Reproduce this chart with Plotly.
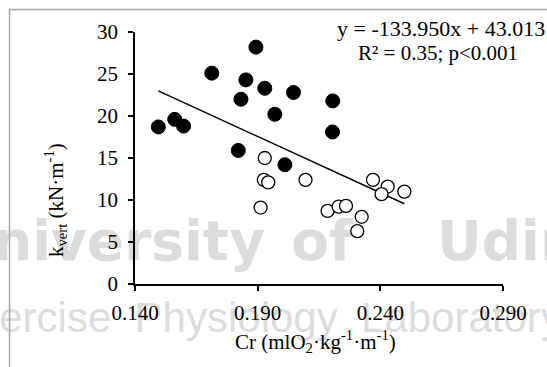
import plotly.graph_objects as go

# ---- data ----
cr_filled = [0.1495, 0.1562, 0.1598, 0.1713, 0.1852, 0.1832, 0.1893,
             0.1929, 0.1970, 0.2046, 0.2206, 0.2205, 0.1821, 0.2011]
kvert_filled = [18.7, 19.6, 18.8, 25.1, 24.3, 22.0, 28.2,
                23.3, 20.2, 22.8, 21.8, 18.1, 15.9, 14.2]

cr_open = [0.1929, 0.1925, 0.1943, 0.1912, 0.2095, 0.2185, 0.2230,
           0.2260, 0.2324, 0.2306, 0.2370, 0.2430, 0.2405, 0.2498]
kvert_open = [15.0, 12.4, 12.1, 9.1, 12.4, 8.7, 9.2,
              9.3, 8.0, 6.3, 12.4, 11.6, 10.7, 11.0]

slope = -133.950
intercept = 43.013

x_range = [0.14, 0.29]
y_range = [0, 30]
x_ticks = [0.140, 0.190, 0.240, 0.290]
x_tick_labels = ["0.140", "0.190", "0.240", "0.290"]
y_ticks = [0, 5, 10, 15, 20, 25, 30]
y_tick_labels = ["0", "5", "10", "15", "20", "25", "30"]

eq_line1 = "y = -133.950x + 43.013"
eq_line2 = "R² = 0.35; p<0.001"
x_title = "Cr (mlO<sub>2</sub>·kg<sup>-1</sup>·m<sup>-1</sup>)"
y_title = "k<sub>vert</sub> (kN·m<sup>-1</sup>)"

watermark_words = ["University", "of", "Udine"]
watermark_line2 = "Exercise  Physiology  Laboratory"

# ---- layout geometry (pixels) ----
W, H = 547, 367
L, R, T, B = 135, 503, 32, 284


def px(x):
    return (x - L) / (R - L)


def py(y):
    return (B - y) / (B - T)


def dx(p):
    return x_range[0] + (p - L) / (R - L) * (x_range[1] - x_range[0])


def dy(p):
    return y_range[0] + (B - p) / (B - T) * (y_range[1] - y_range[0])


SERIF = "Liberation Serif, Times New Roman, serif"
SANS = "Liberation Sans, Arial, sans-serif"
WM = "#dcdcdc"

all_x = cr_filled + cr_open
x_fit = [min(all_x), max(all_x)]
y_fit = [slope * v + intercept for v in x_fit]

fig = go.Figure()
# watermark (drawn first so it sits under marks and tick labels);
# anchors kept inside the plotting area so they are not hidden
fig.add_trace(go.Scatter(
    x=[dx(265), dx(322), dx(437)], y=[dy(246)] * 3,
    mode="text", text=watermark_words,
    textposition=["middle left", "middle center", "middle right"],
    textfont=dict(family="DejaVu Sans", size=55, color=WM, weight="bold"),
    cliponaxis=False, hoverinfo="skip", showlegend=False))
fig.add_trace(go.Scatter(
    x=[dx(256)], y=[dy(283.5)],
    mode="markers+text", text=[watermark_line2], textposition="bottom center",
    marker=dict(size=25, color="rgba(0,0,0,0)"),
    textfont=dict(family=SANS, size=42, color=WM),
    cliponaxis=False, hoverinfo="skip", showlegend=False))

fig.add_trace(go.Scatter(x=x_fit, y=y_fit, mode="lines",
                         line=dict(color="black", width=1.5),
                         hoverinfo="skip", showlegend=False))
fig.add_trace(go.Scatter(x=cr_filled, y=kvert_filled, mode="markers",
                         marker=dict(size=14, color="black",
                                     line=dict(color="black", width=1)),
                         showlegend=False))
fig.add_trace(go.Scatter(x=cr_open, y=kvert_open, mode="markers",
                         marker=dict(size=13, color="white",
                                     line=dict(color="black", width=1.3)),
                         showlegend=False))

annotations = [
    dict(text=eq_line1, x=px(441), y=py(28), xanchor="center", yanchor="middle",
         font=dict(family=SERIF, size=22, color="black")),
    dict(text=eq_line2, x=px(438), y=py(53), xanchor="center", yanchor="middle",
         font=dict(family=SERIF, size=21, color="black")),
    dict(text=x_title, x=px(315), y=py(341), xanchor="center", yanchor="middle",
         font=dict(family=SERIF, size=21, color="black")),
    dict(text=y_title, x=px(55), y=py(200), xanchor="center", yanchor="middle",
         textangle=-90, font=dict(family=SERIF, size=21, color="black")),
]
for a in annotations:
    a.update(xref="paper", yref="paper", showarrow=False)

shapes = [
    dict(type="line", xref="paper", yref="paper", x0=px(9), y0=py(9.5), x1=px(560), y1=py(9.5),
         line=dict(color="#a6a6a6", width=1.5)),
    dict(type="line", xref="paper", yref="paper", x0=px(9.5), y0=py(9), x1=px(9.5), y1=py(380),
         line=dict(color="#a6a6a6", width=1.5)),
]

fig.update_layout(
    width=W, height=H,
    margin=dict(l=L, r=W - R, t=T, b=H - B, pad=0),
    paper_bgcolor="white", plot_bgcolor="white",
    annotations=annotations, shapes=shapes,
    font=dict(family=SERIF, size=21, color="black"),
    xaxis=dict(range=x_range, tickvals=x_ticks, ticktext=x_tick_labels,
               showgrid=False, zeroline=False, showline=True, linecolor="black",
               linewidth=1.5, ticks="outside", ticklen=5, tickwidth=1.5,
               tickcolor="black", ticklabelstandoff=4,
               tickfont=dict(family=SERIF, size=21, color="black")),
    yaxis=dict(range=y_range, tickvals=y_ticks, ticktext=y_tick_labels,
               showgrid=False, zeroline=False, showline=True, linecolor="black",
               linewidth=1.5, ticks="outside", ticklen=5, tickwidth=1.5,
               tickcolor="black", ticklabelstandoff=6,
               tickfont=dict(family=SERIF, size=21, color="black")),
)

fig.write_html("out.html")
